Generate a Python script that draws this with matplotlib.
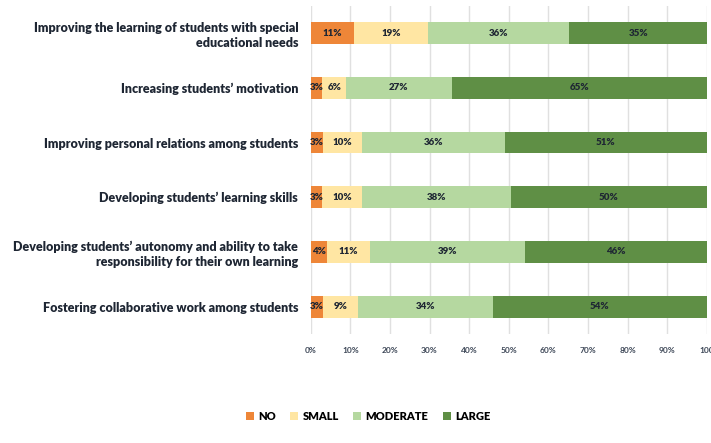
import numpy as np
import matplotlib.pyplot as plt

categories = [
    'Improving the learning of students with special\neducational needs',
    'Increasing students\u2019 motivation',
    'Improving personal relations among students',
    'Developing students\u2019 learning skills',
    'Developing students\u2019 autonomy and ability to take\nresponsibility for their own learning',
    'Fostering collaborative work among students',
]
no = [11, 3, 3, 3, 4, 3]
small = [19, 6, 10, 10, 11, 9]
moderate = [36, 27, 36, 38, 39, 34]
large = [35, 65, 51, 50, 46, 54]
series_names = ['NO', 'SMALL', 'MODERATE', 'LARGE']
colors = ['#EE8638', '#FFE6A3', '#B5D8A0', '#5F8F45']
xticks = [0, 10, 20, 30, 40, 50, 60, 70, 80, 90, 100]
xticklabels = ['0%', '10%', '20%', '30%', '40%', '50%', '60%', '70%', '80%', '90%', '100']

plt.rcParams['font.family'] = ['Lato', 'DejaVu Sans']
text_col = '#1e2633'

data = np.array([no, small, moderate, large], dtype=float)
share = data / data.sum(axis=0) * 100  # 100% stacked

fig = plt.figure(figsize=(7.11, 4.43), dpi=100)
ax = fig.add_axes([0.437, 0.246, 0.557, 0.741])

y = np.arange(len(categories))
left = np.zeros(len(categories))
for i, name in enumerate(series_names):
    ax.barh(y, share[i], left=left, height=0.4, color=colors[i], label=name,
            zorder=3)
    for j in range(len(categories)):
        ax.text(left[j] + share[i][j] / 2, y[j], '%d%%' % data[i][j],
                ha='center', va='center', fontsize=7, fontweight='heavy',
                color=text_col, zorder=4)
    left += share[i]

ax.set_ylim(len(categories) - 0.5, -0.5)
ax.set_xlim(0, 100)
ax.set_yticks(y)
ax.set_yticklabels(categories, fontsize=9, fontweight='heavy', color=text_col,
                   linespacing=1.25)
ax.set_xticks(xticks)
ax.set_xticklabels(xticklabels, fontsize=6, fontweight='bold', color='#3c4656')
ax.tick_params(axis='y', length=0, pad=9)
ax.tick_params(axis='x', length=0, pad=9)
ax.grid(axis='x', color='#e0e0e0', linewidth=1, zorder=0)
for s in ax.spines.values():
    s.set_visible(False)

fig.legend(loc='center', bbox_to_anchor=(0.518, 0.06), ncol=4, frameon=False,
           prop={'size': 8, 'weight': 'heavy'}, handlelength=0.7,
           handleheight=0.7, handletextpad=0.4, columnspacing=1.3)

plt.savefig('out.png', dpi=100)
